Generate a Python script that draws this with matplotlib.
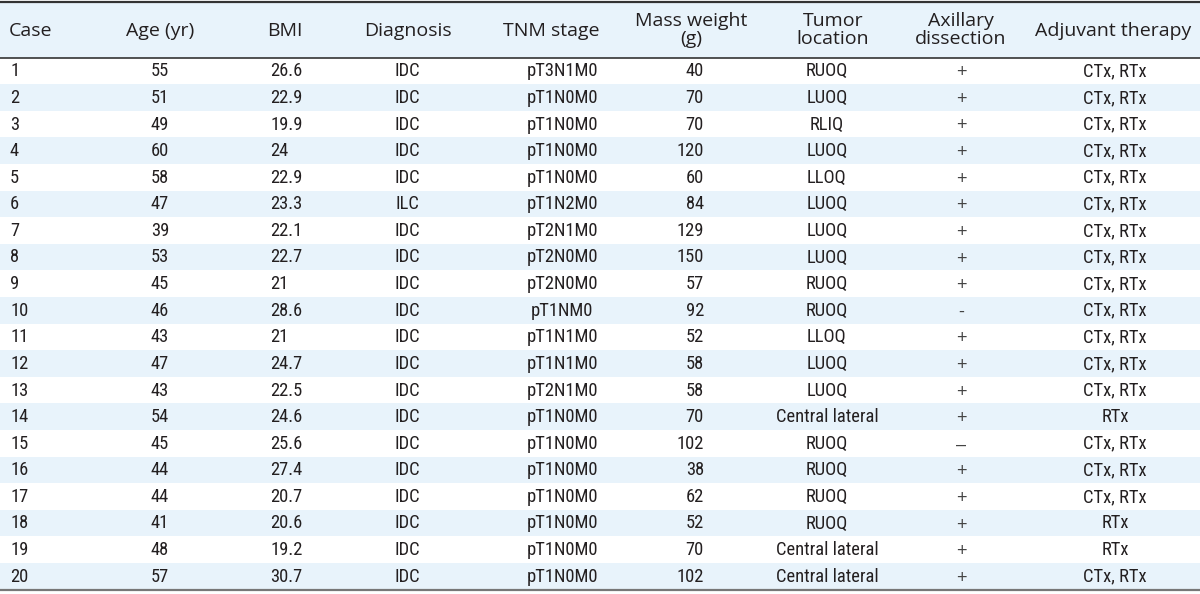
import matplotlib.pyplot as plt
from matplotlib import font_manager
from matplotlib.patches import Rectangle

# table contents
headers = ['Case', 'Age (yr)', 'BMI', 'Diagnosis', 'TNM stage', 'Mass weight\n(g)',
           'Tumor\nlocation', 'Axillary\ndissection', 'Adjuvant therapy']

case = [str(i) for i in range(1, 21)]
age = [55, 51, 49, 60, 58, 47, 39, 53, 45, 46, 43, 47, 43, 54, 45, 44, 44, 41, 48, 57]
bmi = ['26.6', '22.9', '19.9', '24', '22.9', '23.3', '22.1', '22.7', '21', '28.6',
       '21', '24.7', '22.5', '24.6', '25.6', '27.4', '20.7', '20.6', '19.2', '30.7']
diagnosis = ['IDC'] * 5 + ['ILC'] + ['IDC'] * 14
tnm = ['pT3N1M0', 'pT1N0M0', 'pT1N0M0', 'pT1N0M0', 'pT1N0M0', 'pT1N2M0', 'pT2N1M0',
       'pT2N0M0', 'pT2N0M0', 'pT1NM0', 'pT1N1M0', 'pT1N1M0', 'pT2N1M0', 'pT1N0M0',
       'pT1N0M0', 'pT1N0M0', 'pT1N0M0', 'pT1N0M0', 'pT1N0M0', 'pT1N0M0']
mass = [40, 70, 70, 120, 60, 84, 129, 150, 57, 92, 52, 58, 58, 70, 102, 38, 62, 52, 70, 102]
location = ['RUOQ', 'LUOQ', 'RLIQ', 'LUOQ', 'LLOQ', 'LUOQ', 'LUOQ', 'LUOQ', 'RUOQ', 'RUOQ',
            'LLOQ', 'LUOQ', 'LUOQ', 'Central lateral', 'RUOQ', 'RUOQ', 'RUOQ', 'RUOQ',
            'Central lateral', 'Central lateral']
axillary = ['+'] * 9 + ['-'] + ['+'] * 4 + ['\u2013'] + ['+'] * 5
adjuvant = ['CTx, RTx'] * 13 + ['RTx'] + ['CTx, RTx'] * 3 + ['RTx', 'RTx', 'CTx, RTx']

columns = [case, [str(a) for a in age], bmi, diagnosis, tnm, [str(m) for m in mass],
           location, axillary, adjuvant]

# pick a narrow face for the body if one is around
installed = set(f.name for f in font_manager.fontManager.ttflist)
narrow = [n for n in ['Liberation Sans Narrow', 'Roboto Condensed', 'Arial Narrow']
          if n in installed]
if narrow:
    body_font = [narrow[0], 'DejaVu Sans']
    body_size = 13.3
else:
    body_font = ['Liberation Sans', 'DejaVu Sans']
    body_size = 11.5
sign_font = ['Liberation Sans', 'DejaVu Sans']

# layout (pixel coordinates)
W, H = 1200, 594
head_x = [9, 160, 285, 408, 551, 691, 833, 961, 1113]
head_ha = ['left'] + ['center'] * 8
cell_x = [10, 160, 270, 407, 562, 704, 827, 961, 1115]
cell_ha = ['left', 'center', 'left', 'center', 'center', 'right', 'center', 'center', 'center']
top, head_bot, bottom = 1.5, 57.5, 589.5
row_h = (bottom - head_bot) / len(case)

blue = '#e8f3fb'
txt = '#231f20'
head_font = ['Open Sans', 'DejaVu Sans']

fig = plt.figure(figsize=(12, 5.94), dpi=100)
ax = fig.add_axes([0, 0, 1, 1])
ax.set_xlim(0, W)
ax.set_ylim(H, 0)
ax.axis('off')

# header band
ax.add_patch(Rectangle((0, top), W, head_bot - top, color=blue, lw=0))
for x, ha, h in zip(head_x, head_ha, headers):
    ax.text(x, (top + head_bot) / 2 + 1, h, ha=ha, va='center', fontsize=14,
            family=head_font, color=txt, linespacing=1.0)

# body rows
for i in range(len(case)):
    y0 = head_bot + i * row_h
    if i % 2 == 1:
        ax.add_patch(Rectangle((0, y0), W, row_h, color=blue, lw=0))
    for j, (col, x, ha) in enumerate(zip(columns, cell_x, cell_ha)):
        if j == 7:
            # +/- signs sit a touch lower in the original
            ax.text(x, y0 + row_h / 2 + 2, col[i], ha=ha, va='center', fontsize=13,
                    family=sign_font, color='#444444')
        else:
            ax.text(x, y0 + row_h / 2 + 0.5, col[i], ha=ha, va='center',
                    fontsize=body_size, family=body_font, color=txt)

ax.plot([0, W], [top, top], color='#333333', lw=1.6)
ax.plot([0, W], [head_bot, head_bot], color='#333333', lw=1.2)
ax.plot([0, W], [bottom, bottom], color='#777777', lw=1.6)

fig.savefig('out.png', dpi=100)
